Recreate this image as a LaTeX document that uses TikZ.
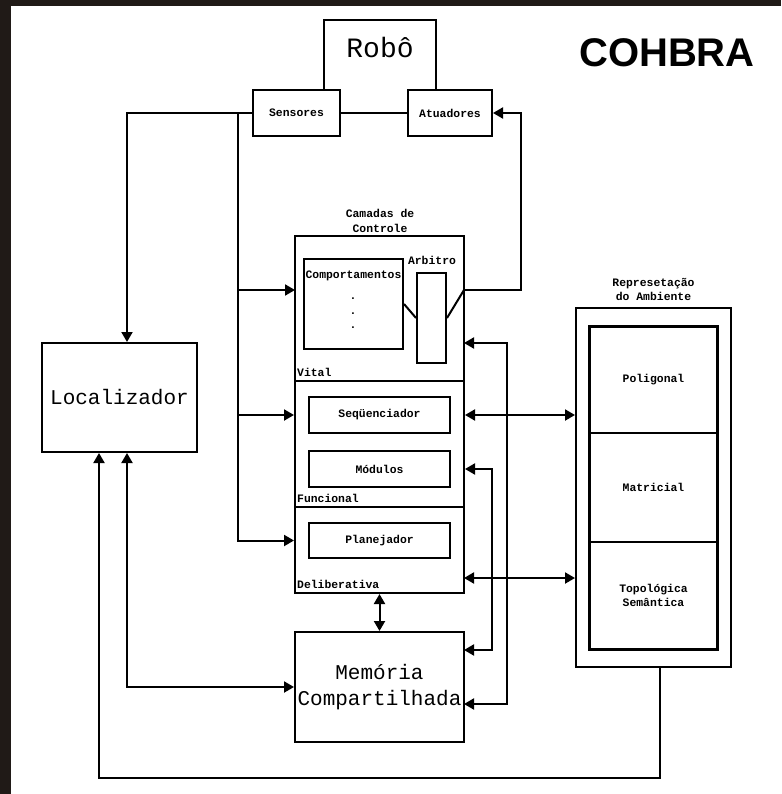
\documentclass[tikz,border=0pt]{standalone}
\usepackage{fontspec}
\setmainfont{Liberation Serif}
\newfontfamily\monofont{Liberation Mono}
\newfontfamily\titlefont{Liberation Sans}
\usetikzlibrary{arrows.meta}
\definecolor{framedark}{HTML}{201A17}

\begin{document}
\begin{tikzpicture}[x=1pt, y=-1pt,
    box/.style={draw, line width=2pt, inner sep=0pt},
    small/.style={font=\monofont\bfseries\fontsize{11.4}{14}\selectfont},
    big/.style={font=\monofont\fontsize{21}{26}\selectfont},
    wire/.style={line width=2pt},
    arr/.style={-{Triangle[length=10pt,width=11pt]}, line width=2pt},
    dbl/.style={{Triangle[length=10pt,width=11pt]}-{Triangle[length=10pt,width=11pt]}, line width=2pt},
  ]
  \useasboundingbox (0,0) rectangle (781,794);
  \fill[framedark] (0,0) rectangle (781,6);
  \fill[framedark] (0,0) rectangle (11,794);

  % robot
  \node (robo) at (380,55) [minimum width=112pt, minimum height=70pt] {};
  \draw[wire] (robo.south west) |- (robo.north east) -- (robo.south east);
  \node[font=\monofont\fontsize{28}{30}\selectfont] (robotxt) at (380,47) {Robô};
  \node[box, small, minimum width=87pt, minimum height=46pt] (sensores) at (296.5,113) {Sensores};
  \node[box, small, minimum width=84pt, minimum height=46pt] (atuadores) at (450,113) {Atuadores};
  \draw[wire] (sensores) -- (atuadores);
  \node[font=\titlefont\bfseries\fontsize{40}{40}\selectfont] (titulo) at (667,53) {COHBRA};

  \node[box, big, minimum width=155pt, minimum height=109pt] (localizador) at (119.5,397.5) {Localizador};

  % control layers
  \node[small, align=center, font=\monofont\bfseries\fontsize{11.4}{15}\selectfont] (camadas) at (380,221) {Camadas de\\Controle};
  \node[box, minimum width=169pt, minimum height=145pt] (vital) at (379.5,308.5) {};
  \node[box, minimum width=169pt, minimum height=126pt] (funcional) at (379.5,444) {};
  \node[box, minimum width=169pt, minimum height=86pt] (deliberativa) at (379.5,550) {};
  \node[small, anchor=base west, inner sep=0pt] (vitaltxt) at ([xshift=3pt, yshift=6pt]vital.south west) {Vital};
  \node[small, anchor=base west, inner sep=0pt] (funcionaltxt) at ([xshift=3pt, yshift=6pt]funcional.south west) {Funcional};
  \node[small, anchor=base west, inner sep=0pt] (deliberativatxt) at ([xshift=3pt, yshift=6pt]deliberativa.south west) {Deliberativa};

  \node[box, minimum width=99pt, minimum height=90pt] (comport) at (353.5,304) {};
  \node[small] (comporttxt) at (353.5,276) {Comportamentos};
  \foreach \y [count=\i] in {299,314,328}
    \node[small, inner sep=0pt] (ponto\i) at (353,\y) {.};
  \node[box, minimum width=29pt, minimum height=90pt] (arbitro) at (431.5,318) {};
  \node[small] (arbitrotxt) at (432,260) {Arbitro};

  \node[box, small, minimum width=141pt, minimum height=36pt] (seq) at (379.5,415) {Seqüenciador};
  \node[box, small, minimum width=141pt, minimum height=36pt] (modulos) at (379.5,469) {Módulos};
  \node[box, small, minimum width=141pt, minimum height=35pt] (planejador) at (379.5,540.5) {Planejador};

  \node[box, big, align=center, minimum width=169pt, minimum height=110pt] (memoria) at (379.5,687) {Memória\\Compartilhada};

  % environment
  \node[small, align=center, font=\monofont\bfseries\fontsize{11.4}{14}\selectfont] (reptxt) at (653.5,289) {Represetação\\do Ambiente};
  \node[box, minimum width=155pt, minimum height=359pt] (rep) at (653.5,487.5) {};
  \node[box, small, minimum width=127pt, minimum height=106pt] (poligonal) at (653.5,380) {Poligonal};
  \node[box, small, minimum width=127pt, minimum height=109pt] (matricial) at (653.5,487.5) {Matricial};
  \node[box, small, align=center, minimum width=127pt, minimum height=107pt] (topologica) at (653.5,595.5) {Topológica\\Semântica};
  \draw[line width=2.6pt] (poligonal.north west) rectangle (topologica.south east);

  % connectors
  \coordinate (bus) at (238,113);
  \coordinate (vitalin) at (295,290);
  \coordinate (vitalout) at (464,290);
  \coordinate (vr) at (464,343);
  \coordinate (dr) at (464,578);
  \coordinate (mr1) at (464,650);
  \coordinate (mr2) at (464,704);

  \draw[arr] (sensores.west) -| ([xshift=7.5pt]localizador.north);
  \draw[arr] (bus) |- (planejador -| deliberativa.west);
  \draw[arr] (bus |- vitalin) -- (vitalin);
  \draw[arr] (bus |- seq) -- (seq -| funcional.west);

  \draw[wire] (comport.east) -- (arbitro.west);
  \draw[wire] (arbitro.east) -- (vitalout);
  \draw[arr] (vitalout) -| ([xshift=28pt]atuadores.east) -- (atuadores.east);

  \draw[dbl] (vr) -- ++(43,0) |- (mr2);
  \draw[dbl] (modulos -| funcional.east) -- ++(27,0) |- (mr1);
  \draw[dbl] (seq -| funcional.east) -- (seq -| rep.west);
  \draw[dbl] (dr) -- (dr -| rep.west);
  \draw[dbl] (deliberativa.south) -- (memoria.north);
  \draw[dbl] ([xshift=7.5pt]localizador.south) |- (memoria.west);
  \draw[arr] ([xshift=6.5pt]rep.south) -- ++(0,110) -| ([xshift=-20.5pt]localizador.south);
\end{tikzpicture}
\end{document}
